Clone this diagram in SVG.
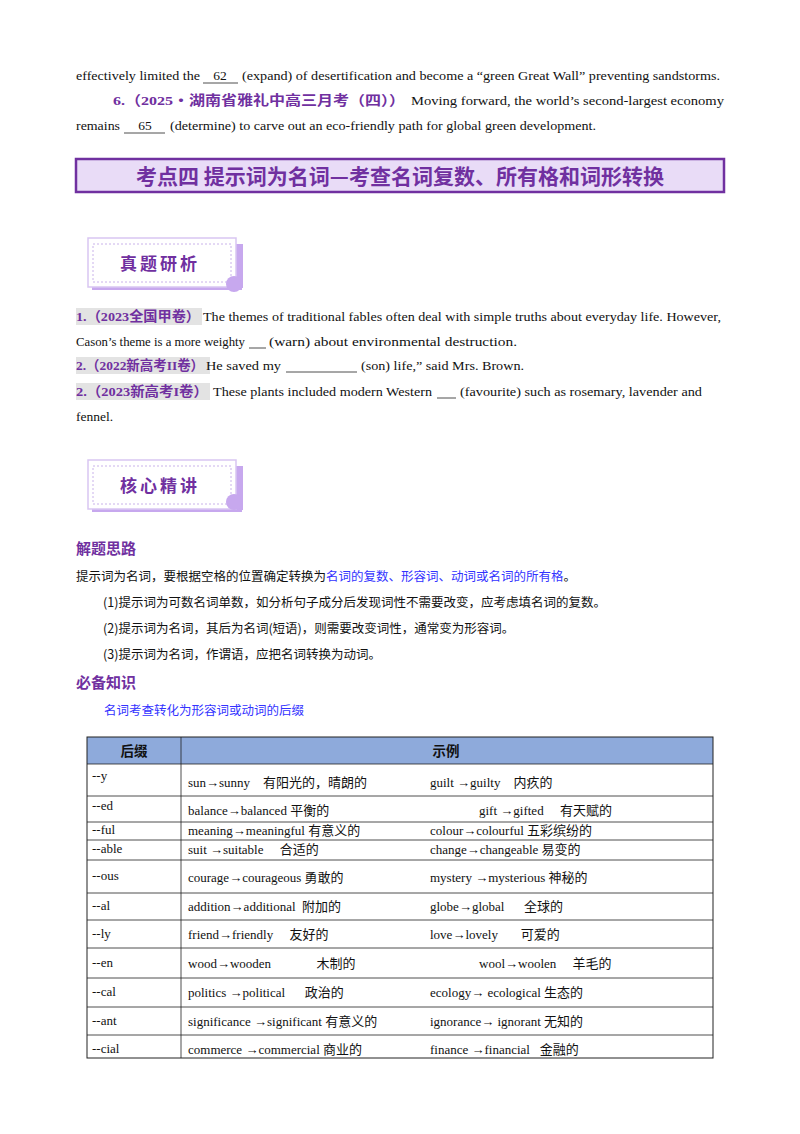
<svg xmlns="http://www.w3.org/2000/svg" width="800" height="1134" viewBox="0 0 800 1134">
<style>
.t{font-family:"Liberation Serif","Noto Sans CJK SC",serif;font-size:13.5px;fill:#111;white-space:pre}
.tb text{font-family:"Liberation Serif","Noto Sans CJK SC",serif;font-size:13px;fill:#111;white-space:pre}
.p{fill:#7030a0;font-weight:bold}
.b{fill:#3333ff}
.h{font-family:"Noto Sans CJK SC",sans-serif;font-weight:bold;fill:#7030a0}
.g{fill:#e3e3e3}
.ln{stroke:#222;stroke-width:0.8}
.cj{font-family:"Noto Sans CJK SC",sans-serif;font-size:12.5px}
</style>
<rect width="800" height="1134" fill="#fff"/>
<text class="t" x="76" y="80" textLength="124" lengthAdjust="spacingAndGlyphs">effectively limited the</text>
<text class="t" x="220" y="80" text-anchor="middle">62</text>
<line class="ln" x1="203" y1="83" x2="238" y2="83"/>
<text class="t" x="242" y="80" textLength="478" lengthAdjust="spacingAndGlyphs">(expand) of desertification and become a “green Great Wall” preventing sandstorms.</text>
<text class="t p" x="113" y="105" textLength="292" lengthAdjust="spacingAndGlyphs">6.（2025・湖南省雅礼中高三月考（四））</text>
<text class="t" x="411" y="105" textLength="313" lengthAdjust="spacingAndGlyphs">Moving forward, the world’s second-largest economy</text>
<text class="t" x="76" y="130" textLength="44" lengthAdjust="spacingAndGlyphs">remains</text>
<text class="t" x="145" y="130" text-anchor="middle">65</text>
<line class="ln" x1="124" y1="133" x2="165" y2="133"/>
<text class="t" x="170" y="130" textLength="426" lengthAdjust="spacingAndGlyphs">(determine) to carve out an eco-friendly path for global green development.</text>

<g id="section-title">
<rect x="76" y="159" width="648" height="33" fill="#e9dcf7" stroke="#7030a0" stroke-width="2.5"/>
<text class="h" x="400" y="184" font-size="21" text-anchor="middle">考点四 提示词为名词—考查名词复数、所有格和词形转换</text>
</g>

<g id="badge1">
<rect x="92" y="282" width="150" height="8" fill="#c7a8ee"/>
<rect x="236" y="244" width="7" height="44" fill="#c7a8ee"/>
<rect x="88" y="238" width="148" height="49" fill="#fff" stroke="#d9c6f2" stroke-width="1.5"/>
<rect x="93" y="244" width="138" height="38" fill="none" stroke="#c9b2ea" stroke-width="1" stroke-dasharray="2,2"/>
<circle cx="234" cy="284" r="8" fill="#c7a8ee"/>
<text class="h" x="160" y="270" font-size="17" text-anchor="middle" letter-spacing="3">真题研析</text>
</g>

<rect class="g" x="76" y="308" width="126" height="17"/>
<text class="t p" x="76" y="321" textLength="124" lengthAdjust="spacingAndGlyphs">1.（2023全国甲卷）</text>
<text class="t" x="203" y="321" textLength="518" lengthAdjust="spacingAndGlyphs">The themes of traditional fables often deal with simple truths about everyday life. However,</text>
<text class="t" x="76" y="346" textLength="169" lengthAdjust="spacingAndGlyphs">Cason’s theme is a more weighty</text>
<line class="ln" x1="249" y1="348" x2="266" y2="348"/>
<text class="t" x="269" y="346" textLength="248" lengthAdjust="spacingAndGlyphs">(warn) about environmental destruction.</text>
<rect class="g" x="76" y="357" width="134" height="17"/>
<text class="t p" x="76" y="370" textLength="128" lengthAdjust="spacingAndGlyphs">2.（2022新高考II卷）</text>
<text class="t" x="206" y="370" textLength="75" lengthAdjust="spacingAndGlyphs">He saved my</text>
<line class="ln" x1="286" y1="372" x2="357" y2="372"/>
<text class="t" x="361" y="370" textLength="163" lengthAdjust="spacingAndGlyphs">(son) life,” said Mrs. Brown.</text>
<rect class="g" x="76" y="383" width="134" height="17"/>
<text class="t p" x="76" y="396" textLength="132" lengthAdjust="spacingAndGlyphs">2.（2023新高考I卷）</text>
<text class="t" x="213" y="396" textLength="219" lengthAdjust="spacingAndGlyphs">These plants included modern Western</text>
<line class="ln" x1="437" y1="398" x2="456" y2="398"/>
<text class="t" x="460" y="396" textLength="242" lengthAdjust="spacingAndGlyphs">(favourite) such as rosemary, lavender and</text>
<text class="t" x="76" y="421">fennel.</text>

<g id="badge2">
<rect x="92" y="504" width="150" height="8" fill="#c7a8ee"/>
<rect x="236" y="466" width="7" height="44" fill="#c7a8ee"/>
<rect x="88" y="460" width="148" height="49" fill="#fff" stroke="#d9c6f2" stroke-width="1.5"/>
<rect x="93" y="466" width="138" height="38" fill="none" stroke="#c9b2ea" stroke-width="1" stroke-dasharray="2,2"/>
<circle cx="234" cy="502" r="8" fill="#c7a8ee"/>
<text class="h" x="160" y="492" font-size="17" text-anchor="middle" letter-spacing="3">核心精讲</text>
</g>

<text class="h" x="76" y="554" font-size="15">解题思路</text>
<text class="t cj" x="76" y="581">提示词为名词，要根据空格的位置确定转换为<tspan class="b">名词的复数、形容词、动词或名词的所有格</tspan>。</text>
<text class="t cj" x="103" y="607">(1)提示词为可数名词单数，如分析句子成分后发现词性不需要改变，应考虑填名词的复数。</text>
<text class="t cj" x="103" y="633">(2)提示词为名词，其后为名词(短语)，则需要改变词性，通常变为形容词。</text>
<text class="t cj" x="103" y="659">(3)提示词为名词，作谓语，应把名词转换为动词。</text>
<text class="h" x="76" y="688" font-size="15">必备知识</text>
<text class="t cj b" x="104" y="715">名词考查转化为形容词或动词的后缀</text>

<g id="table">
<rect x="87" y="737" width="626" height="27" fill="#8eaadb"/>
<rect x="87" y="737" width="626" height="321" fill="none" stroke="#222" stroke-width="1"/>
<g stroke="#222" stroke-width="0.8">
<line x1="181" y1="737" x2="181" y2="1058"/>
<line x1="87" y1="764" x2="713" y2="764"/>
<line x1="87" y1="796" x2="713" y2="796"/>
<line x1="87" y1="822" x2="713" y2="822"/>
<line x1="87" y1="840" x2="713" y2="840"/>
<line x1="87" y1="860" x2="713" y2="860"/>
<line x1="87" y1="893" x2="713" y2="893"/>
<line x1="87" y1="920" x2="713" y2="920"/>
<line x1="87" y1="948" x2="713" y2="948"/>
<line x1="87" y1="978" x2="713" y2="978"/>
<line x1="87" y1="1007" x2="713" y2="1007"/>
<line x1="87" y1="1035" x2="713" y2="1035"/>
</g>
<text class="t" x="134" y="756" text-anchor="middle" font-weight="bold" font-size="13">后缀</text>
<text class="t" x="446" y="756" text-anchor="middle" font-weight="bold" font-size="13">示例</text>
<g class="tb" xml:space="preserve">
<text x="92" y="780">--y</text><text x="188" y="787">sun→sunny    有阳光的，晴朗的</text><text x="430" y="787">guilt →guilty    内疚的</text>
<text x="92" y="810">--ed</text><text x="188" y="815">balance→balanced 平衡的</text><text x="479" y="815">gift →gifted     有天赋的</text>
<text x="92" y="834">--ful</text><text x="188" y="835">meaning→meaningful 有意义的</text><text x="430" y="835">colour→colourful 五彩缤纷的</text>
<text x="92" y="853">--able</text><text x="188" y="854">suit →suitable     合适的</text><text x="430" y="854">change→changeable 易变的</text>
<text x="92" y="880">--ous</text><text x="188" y="882">courage→courageous 勇敢的</text><text x="430" y="882">mystery →mysterious 神秘的</text>
<text x="92" y="910">--al</text><text x="188" y="911">addition→additional  附加的</text><text x="430" y="911">globe→global      全球的</text>
<text x="92" y="938">--ly</text><text x="188" y="939">friend→friendly     友好的</text><text x="430" y="939">love→lovely       可爱的</text>
<text x="92" y="967">--en</text><text x="188" y="968">wood→wooden              木制的</text><text x="479" y="968">wool→woolen     羊毛的</text>
<text x="92" y="996">--cal</text><text x="188" y="997">politics →political      政治的</text><text x="430" y="997">ecology→ ecological 生态的</text>
<text x="92" y="1025">--ant</text><text x="188" y="1026">significance →significant 有意义的</text><text x="430" y="1026">ignorance→ ignorant 无知的</text>
<text x="92" y="1053">--cial</text><text x="188" y="1054">commerce →commercial 商业的</text><text x="430" y="1054">finance →financial   金融的</text>
</g>
</g>
</svg>
